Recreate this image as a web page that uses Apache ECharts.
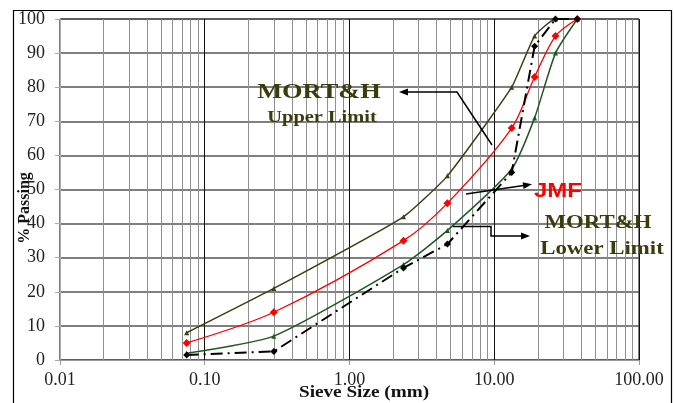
<!DOCTYPE html>
<html>
<head>
<meta charset="utf-8">
<script src="https://cdn.jsdelivr.net/npm/echarts@6/dist/echarts.min.js"></script>
<style>html,body{margin:0;padding:0;background:#fff}#c{width:674px;height:403px}</style>
</head>
<body>
<div id="c"></div>
<script>
const sieveSizes = [0.075, 0.3, 2.36, 4.75, 13.2, 19, 26.5, 37.5];
const upperLimit = [8, 21, 42, 54, 80, 95, 100, 100];
const lowerLimit = [2, 7, 28, 38, 56, 71, 90, 100];
const jmf = [5, 14, 35, 46, 68, 83, 95, 100];
const mixCurve = [1.5, 2.5, 27, 34, 55, 92, 100, 100];
const xTickLabels = ['0.01', '0.10', '1.00', '10.00', '100.00'];
const yTicks = [0, 10, 20, 30, 40, 50, 60, 70, 80, 90, 100];
const minorGrid = [];
[0.01, 0.1, 1, 10].forEach(d => { for (let k = 2; k <= 9; k++) minorGrid.push(+(d * k).toPrecision(3)); });

const pair = ys => sieveSizes.map((x, i) => [x, ys[i]]);
const serif = '"Liberation Serif", "DejaVu Serif", serif';
const olive = '#3b3b0c';
const SX = 1.2;

const chart = echarts.init(document.getElementById('c'));

function arrowHead(x, y, angle, color) {
  const L = 9, W = 3.5;
  const c = Math.cos(angle), s = Math.sin(angle);
  return {
    type: 'polygon', silent: true, z: 20,
    shape: { points: [[x, y], [x - L * c + W * s, y - L * s - W * c], [x - L * c - W * s, y - L * s + W * c]] },
    style: { fill: color }
  };
}
function label(text, x, y, font, fill) {
  return { type: 'text', silent: true, x: x, y: y, scaleX: SX, z: 20,
    style: { text: text, font: font, fill: fill, align: 'center', verticalAlign: 'middle' } };
}

chart.setOption({
  animation: false,
  grid: { left: 60, right: 35, top: 19, bottom: 43, show: true, borderColor: '#000', borderWidth: 1 },
  xAxis: {
    type: 'log', logBase: 10, min: 0.01, max: 100,
    axisLine: { show: true, lineStyle: { color: '#999' } },
    axisTick: { show: true, length: 5, lineStyle: { color: '#999' } },
    axisLabel: {
      fontFamily: serif, fontSize: 18, color: '#222', margin: 11,
      formatter: v => {
        const e = Math.round(Math.log10(v)) + 2;
        return xTickLabels[e] !== undefined ? xTickLabels[e] : '';
      }
    },
    splitLine: { show: true, lineStyle: { color: '#111', width: 1 } },
    minorTick: { show: false },
    minorSplitLine: { show: false }
  },
  yAxis: {
    type: 'value', min: 0, max: 100, interval: 10,
    axisLine: { show: true, lineStyle: { color: '#aaa' } },
    axisTick: { show: true, length: 5, lineStyle: { color: '#aaa' } },
    axisLabel: { fontFamily: serif, fontSize: 18, color: '#222', margin: 15,
      formatter: v => yTicks.includes(v) ? String(v) : '' },
    splitLine: { show: true, lineStyle: { color: '#555', width: 1.5 } }
  },
  series: [
    {
      name: 'MORT&H Upper Limit', type: 'line', data: pair(upperLimit),
      lineStyle: { color: '#3f3f14', width: 1.5 }, itemStyle: { color: '#3f3f14' },
      symbol: 'triangle', symbolSize: 5, smooth: 0.15, z: 3,
      markLine: {
        silent: true, symbol: 'none', label: { show: false },
        lineStyle: { color: '#8f8f8f', width: 1, type: 'solid' },
        data: minorGrid.map(v => ({ xAxis: v })),
        z: 1
      }
    },
    {
      name: 'MORT&H Lower Limit', type: 'line', data: pair(lowerLimit),
      lineStyle: { color: '#1d5a1d', width: 1.5 }, itemStyle: { color: '#1d5a1d' },
      symbol: 'triangle', symbolSize: 5, smooth: 0.2, z: 3
    },
    {
      name: 'JMF', type: 'line', data: pair(jmf),
      lineStyle: { color: '#ff0000', width: 1.3 }, itemStyle: { color: '#ff0000' },
      symbol: 'diamond', symbolSize: 8, smooth: 0.3, z: 4
    },
    {
      name: 'Mix', type: 'line', data: pair(mixCurve),
      lineStyle: { color: '#000', width: 2, type: [12, 5, 2, 5] }, itemStyle: { color: '#000' },
      symbol: 'diamond', symbolSize: 7, z: 5
    }
  ],
  graphic: [
    { type: 'rect', silent: true, shape: { x: 13.5, y: 10.5, width: 658, height: 400 },
      style: { fill: 'none', stroke: '#000', lineWidth: 1.2 }, z: -10 },
    { type: 'text', silent: true, x: 25, y: 208, rotation: Math.PI / 2,
      style: { text: '% Passing', font: 'bold 16px ' + serif, fill: '#111', align: 'center', verticalAlign: 'middle' } },
    label('Sieve Size (mm)', 364, 393, 'bold 16px ' + serif, '#111'),
    label('MORT&H', 319, 92, 'bold 22px ' + serif, olive),
    label('Upper Limit', 322, 118, 'bold 17px ' + serif, olive),
    label('JMF', 558, 191, 'bold 20px "Liberation Sans", Arial, sans-serif', '#ff0000'),
    label('MORT&H', 598, 223, 'bold 19px ' + serif, olive),
    label('Lower Limit', 602, 249, 'bold 19px ' + serif, olive),
    { type: 'polyline', silent: true, shape: { points: [[492, 145], [457, 92], [404, 92]] },
      style: { stroke: '#000', lineWidth: 1.5, fill: null }, z: 20 },
    arrowHead(399, 92, Math.PI, '#000'),
    { type: 'polyline', silent: true, shape: { points: [[466, 194], [527, 185]] },
      style: { stroke: '#000', lineWidth: 1.5, fill: null }, z: 20 },
    arrowHead(532, 184.3, Math.atan2(-9, 61), '#000'),
    { type: 'polyline', silent: true, shape: { points: [[453, 226.5], [491, 226.5], [491, 236], [525, 236]] },
      style: { stroke: '#000', lineWidth: 1.5, fill: null }, z: 20 },
    arrowHead(530, 236, 0, '#000')
  ]
});
</script>
</body>
</html>
